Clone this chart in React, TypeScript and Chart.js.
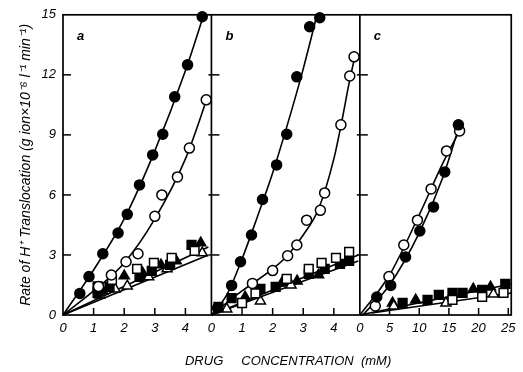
import React, { useEffect, useRef } from "react";
import { Chart, registerables } from "chart.js";

Chart.register(...registerables);

type P = [number, number];

// ---- axis ticks ----
const yTicks = [0, 3, 6, 9, 12, 15];
const abTicks = [0, 1, 2, 3, 4];
const cTicks = [0, 5, 10, 15, 20, 25];
const panelLabels = ["a", "b", "c"];
const yTitle = "Rate of H\u207A Translocation (g ion\u00D710\u207B\u2076 l\u207B\u00B9 min\u207B\u00B9)";
const xTitle = "DRUG     CONCENTRATION  (mM)";

// ---- panel a ----
const aFilledCircles: P[] = [[0.55, 1.08], [0.85, 1.92], [1.3, 3.06], [1.8, 4.1], [2.1, 5.03], [2.5, 6.5], [2.93, 8.0], [3.26, 9.03], [3.65, 10.9], [4.07, 12.5], [4.55, 14.9]];
const aOpenCircles: P[] = [[1.16, 1.43], [1.58, 2.0], [2.06, 2.66], [2.45, 3.06], [3.0, 4.93], [3.23, 6.0], [3.74, 6.9], [4.13, 8.34], [4.68, 10.75]];
const aFilledSquares: P[] = [[1.13, 1.1], [1.52, 1.4], [2.5, 1.9], [2.9, 2.2], [3.5, 2.5], [4.2, 3.5]];
const aOpenSquares: P[] = [[1.13, 1.43], [1.6, 1.75], [2.42, 2.3], [2.97, 2.6], [3.55, 2.85], [4.3, 3.2]];
const aFilledTriangles: P[] = [[1.3, 1.2], [2.0, 1.95], [2.6, 2.1], [3.2, 2.5], [3.7, 2.7], [4.5, 3.6]];
const aOpenTriangles: P[] = [[1.2, 1.0], [1.7, 1.3], [2.1, 1.45], [2.8, 1.9], [3.4, 2.3], [4.55, 3.1]];
const aFilledFit: P[] = [[0, 0], [1, 2.25], [2, 4.8], [3, 8.2], [4, 12.2], [4.6, 15]];
const aOpenFit: P[] = [[0, 0], [1, 1.2], [2, 2.6], [3, 4.8], [4, 7.8], [4.75, 11]];
const aUpperFit: P[] = [[0, 0], [4.75, 3.4]];
const aLowerFit: P[] = [[0, 0], [4.75, 3.0]];

// ---- panel b ----
const bFilledCircles: P[] = [[0.2, 0.35], [0.66, 1.48], [0.95, 2.66], [1.31, 4.0], [1.67, 5.77], [2.13, 7.5], [2.46, 9.03], [2.79, 11.9], [3.21, 14.4], [3.54, 14.85]];
const bOpenCircles: P[] = [[1.34, 1.58], [2.0, 2.22], [2.49, 2.96], [2.79, 3.5], [3.11, 4.74], [3.56, 5.23], [3.7, 6.1], [4.23, 9.5], [4.52, 11.94], [4.66, 12.9]];
const bFilledSquares: P[] = [[0.23, 0.4], [0.66, 0.84], [1.6, 1.3], [2.1, 1.4], [3.18, 2.06], [3.7, 2.3], [4.2, 2.55], [4.5, 2.7]];
const bOpenSquares: P[] = [[1.0, 0.6], [1.44, 1.08], [2.46, 1.8], [3.18, 2.3], [3.6, 2.6], [4.07, 2.85], [4.5, 3.15]];
const bFilledTriangles: P[] = [[1.1, 0.9], [2.3, 1.6], [2.8, 1.7], [3.5, 2.0]];
const bOpenTriangles: P[] = [[0.5, 0.3], [1.6, 0.7], [2.6, 1.5]];
const bFilledFit: P[] = [[0, 0], [0.5, 1.0], [1, 2.8], [1.5, 4.9], [2, 7.1], [2.5, 9.6], [3, 12.3], [3.45, 15]];
const bOpenFit: P[] = [[0, 0], [1, 1.2], [2, 2.3], [2.5, 3.0], [3, 4.0], [3.5, 5.3], [4, 7.8], [4.25, 9.6], [4.5, 11.6], [4.7, 13.0]];
const bUpperFit: P[] = [[0, 0], [4.8, 3.0]];
const bLowerFit: P[] = [[0, 0], [4.8, 2.7]];

// ---- panel c ----
const cFilledCircles: P[] = [[2.85, 0.9], [5.2, 1.48], [7.7, 2.9], [10.1, 4.2], [12.4, 5.4], [14.3, 7.15], [16.6, 9.5]];
const cOpenCircles: P[] = [[2.6, 0.45], [4.9, 1.92], [7.4, 3.5], [9.7, 4.74], [12.0, 6.3], [14.6, 8.2], [16.8, 9.2]];
const cFilledSquares: P[] = [[7.2, 0.6], [11.4, 0.75], [13.3, 1.0], [15.6, 1.1], [17.3, 1.1], [20.6, 1.25], [24.5, 1.55]];
const cOpenSquares: P[] = [[15.6, 0.75], [20.6, 0.9], [24.2, 1.1]];
const cFilledTriangles: P[] = [[5.5, 0.6], [9.4, 0.75], [19.1, 1.3], [22, 1.4]];
const cOpenTriangles: P[] = [[5.7, 0.45], [14.5, 0.6], [22.5, 1.05]];
const cFilledFit: P[] = [[0.5, 0], [5, 1.5], [10, 4.1], [14, 6.9], [16.7, 9.4]];
const cOpenFit: P[] = [[0, 0], [5, 2.0], [10, 5.0], [14, 7.6], [16.8, 9.2]];
const cUpperFit: P[] = [[0, 0], [25.5, 1.55]];
const cLowerFit: P[] = [[2, 0.1], [25.5, 1.1]];

const xy = (d: P[]) => d.map(([x, y]) => ({ x, y }));

const pts = (d: P[], axis: string, style: string, filled: boolean) => ({
  type: "scatter" as const,
  data: xy(d),
  xAxisID: axis,
  yAxisID: "y",
  showLine: false,
  pointStyle: style,
  pointRadius: style === "circle" ? 5 : style === "rect" ? 6.2 : 5.8,
  pointBackgroundColor: filled ? "#000" : "#fff",
  pointBorderColor: "#000",
  pointBorderWidth: 1.5,
  clip: false as any,
  order: 1,
});

const fit = (d: P[], axis: string) => ({
  type: "line" as const,
  data: xy(d),
  xAxisID: axis,
  yAxisID: "y",
  borderColor: "#000",
  borderWidth: 1.6,
  pointRadius: 0,
  tension: 0.35,
  cubicInterpolationMode: "monotone" as const,
  fill: false,
  clip: false as any,
  order: 2,
});

const FONT = "'Liberation Sans', Arial, sans-serif";

const framePlugin = {
  id: "frame",
  afterDraw(chart: any) {
    const { ctx, chartArea } = chart;
    const y = chart.scales.y;
    const xs = [chart.scales.xa, chart.scales.xb, chart.scales.xc];
    ctx.save();
    ctx.strokeStyle = "#000";
    ctx.lineWidth = 1.7;
    ctx.strokeRect(chartArea.left, chartArea.top, chartArea.right - chartArea.left, chartArea.bottom - chartArea.top);
    // dividers
    for (let i = 1; i < xs.length; i++) {
      ctx.beginPath();
      ctx.moveTo(xs[i].left, chartArea.top);
      ctx.lineTo(xs[i].left, chartArea.bottom);
      ctx.stroke();
    }
    ctx.lineWidth = 1.5;
    // y ticks at each panel's left edge
    xs.forEach((s: any, i: number) => {
      yTicks.forEach((v) => {
        if (v === 0 || v === 15) return;
        const py = y.getPixelForValue(v);
        ctx.beginPath();
        ctx.moveTo(s.left - (i === 0 ? 0 : 3), py);
        ctx.lineTo(s.left + 8, py);
        ctx.stroke();
      });
    });
    // x ticks pointing up
    const tickSets = [abTicks, abTicks, cTicks];
    xs.forEach((s: any, i: number) => {
      tickSets[i].forEach((v) => {
        if (v === 0) return;
        const px = s.getPixelForValue(v);
        if (px > chartArea.right - 2) return;
        ctx.beginPath();
        ctx.moveTo(px, chartArea.bottom);
        ctx.lineTo(px, chartArea.bottom - 7);
        ctx.stroke();
      });
    });
    // panel letters
    ctx.fillStyle = "#000";
    ctx.font = `italic bold 13px ${FONT}`;
    ctx.textAlign = "left";
    ctx.textBaseline = "middle";
    xs.forEach((s: any, i: number) => {
      ctx.fillText(panelLabels[i], s.left + 14, chartArea.top + 22);
    });
    // x-axis title, centred under the three panels
    ctx.font = `italic 13px ${FONT}`;
    ctx.textAlign = "center";
    ctx.fillText(xTitle, (chartArea.left + chartArea.right) / 2 + 1, chartArea.bottom + 46);
    ctx.restore();
  },
};

const tickFont = { family: FONT, size: 13, style: "italic" as const };

const xScale = (max: number, step: number, weight: number) => ({
  type: "linear" as const,
  position: "bottom" as const,
  stack: "x",
  stackWeight: weight,
  min: 0,
  max,
  grid: { display: false, drawTicks: false },
  border: { display: false },
  ticks: {
    stepSize: step,
    includeBounds: false,
    autoSkip: false,
    maxRotation: 0,
    padding: 6,
    color: "#000",
    font: tickFont,
  },
  afterFit(scale: any) {
    scale.height = 57;
  },
});

export default function App() {
  const ref = useRef<HTMLCanvasElement | null>(null);
  useEffect(() => {
    if (!ref.current) return;
    const chart = new Chart(ref.current, {
      type: "scatter",
      data: {
        datasets: [
          pts(aFilledCircles, "xa", "circle", true),
          pts(aOpenCircles, "xa", "circle", false),
          pts(aOpenSquares, "xa", "rect", false),
          pts(aFilledSquares, "xa", "rect", true),
          pts(aOpenTriangles, "xa", "triangle", false),
          pts(aFilledTriangles, "xa", "triangle", true),
          pts(bFilledCircles, "xb", "circle", true),
          pts(bOpenCircles, "xb", "circle", false),
          pts(bOpenSquares, "xb", "rect", false),
          pts(bFilledSquares, "xb", "rect", true),
          pts(bOpenTriangles, "xb", "triangle", false),
          pts(bFilledTriangles, "xb", "triangle", true),
          pts(cFilledCircles, "xc", "circle", true),
          pts(cOpenCircles, "xc", "circle", false),
          pts(cOpenSquares, "xc", "rect", false),
          pts(cFilledSquares, "xc", "rect", true),
          pts(cOpenTriangles, "xc", "triangle", false),
          pts(cFilledTriangles, "xc", "triangle", true),
          fit(aFilledFit, "xa"),
          fit(aOpenFit, "xa"),
          fit(aUpperFit, "xa"),
          fit(aLowerFit, "xa"),
          fit(bFilledFit, "xb"),
          fit(bOpenFit, "xb"),
          fit(bUpperFit, "xb"),
          fit(bLowerFit, "xb"),
          fit(cFilledFit, "xc"),
          fit(cOpenFit, "xc"),
          fit(cUpperFit, "xc"),
          fit(cLowerFit, "xc"),
        ] as any,
      },
      options: {
        animation: false,
        responsive: true,
        maintainAspectRatio: false,
        layout: { padding: { top: 11, right: 7, left: 0, bottom: 0 } },
        plugins: { legend: { display: false }, tooltip: { enabled: false } },
        scales: {
          xa: xScale(4.85, 1, 150),
          xb: xScale(4.85, 1, 150),
          xc: xScale(25.5, 5, 153),
          y: {
            type: "linear",
            position: "left",
            min: 0,
            max: 15,
            grid: { display: false, drawTicks: false },
            border: { display: false },
            ticks: { stepSize: 3, padding: 7, color: "#000", font: tickFont },
            title: {
              display: true,
              text: yTitle,
              color: "#000",
              font: { family: FONT, size: 14, style: "italic" },
              padding: { top: 18, bottom: 0 },
            },
            afterFit(scale: any) {
              scale.width = 63;
            },
          },
        } as any,
      },
      plugins: [framePlugin],
    });
    return () => chart.destroy();
  }, []);
  return (
    <div style={{ position: "absolute", left: 0, top: 0, width: 523, height: 372, background: "#fff" }}>
      <canvas ref={ref} />
    </div>
  );
}
